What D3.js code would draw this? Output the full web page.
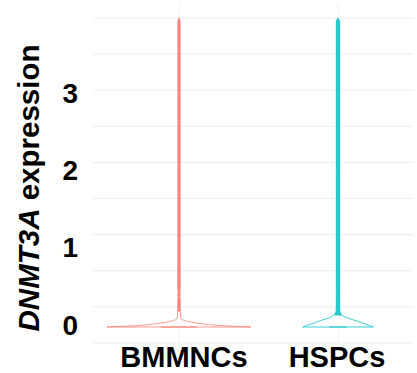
<!DOCTYPE html>
<html>
<head>
<meta charset="utf-8">
<script src="https://cdn.jsdelivr.net/npm/d3@7"></script>
<style>
  body { margin: 0; background: #fff; }
  text { font-family: "Liberation Sans", Arial, sans-serif; font-weight: bold; }
</style>
</head>
<body>
<div id="chart"></div>
<script>
// groups and colours
const groups = ["BMMNCs", "HSPCs"];
const colors = ["#F8766D", "#00BFC4"];
const yTicks = [0, 1, 2, 3];
const gridValues = [-0.5, 0, 0.5, 1, 1.5, 2, 2.5, 3, 3.5, 4];

// violin outlines: expression value vs density (relative half-width)
const bmValues = [0, 0.01, 0.02, 0.04, 0.06, 0.08, 0.1, 0.12, 0.2, 0.35, 0.4, 0.42, 0.45, 0.5, 1, 2, 3, 3.95, 4];
const bmDensity = [1.0, 0.75, 0.55, 0.34, 0.19, 0.09, 0.04, 0.022, 0.018, 0.016, 0.012, 0.02, 0.012, 0.017, 0.016, 0.016, 0.016, 0.016, 0];
const hsValues = [0, 0.02, 0.05, 0.09, 0.12, 0.15, 0.18, 0.21, 0.3, 0.5, 1, 2, 3, 3.95, 4];
const hsDensity = [0.49, 0.43, 0.34, 0.22, 0.12, 0.06, 0.035, 0.026, 0.023, 0.023, 0.023, 0.023, 0.023, 0.023, 0];

const width = 417, height = 373;
const svg = d3.select("#chart").append("svg")
  .attr("width", width)
  .attr("height", height);

const y = d3.scaleLinear().domain([0, 4]).range([327, 18]);
// panel grid sits slightly shifted against the data scale in the source figure
const gridY = d3.scaleLinear().domain([-0.5, 4]).range([343, 18]);
const x = d3.scalePoint().domain(groups).range([179, 338]);
const w = d3.scaleLinear().domain([0, 1]).range([0, 72]);

// grid
svg.append("g")
  .selectAll("line")
  .data(gridValues)
  .enter()
  .append("line")
  .attr("x1", 93)
  .attr("x2", 413)
  .attr("y1", (d) => gridY(d))
  .attr("y2", (d) => gridY(d))
  .attr("stroke", "#ededed")
  .attr("stroke-width", 1);
svg.append("g")
  .selectAll("line")
  .data(groups)
  .enter()
  .append("line")
  .attr("x1", (d) => x(d))
  .attr("x2", (d) => x(d))
  .attr("y1", 3)
  .attr("y2", 345)
  .attr("stroke", "#f2f2f2")
  .attr("stroke-width", 1);

// violins
const series = [
  { name: groups[0], color: colors[0], pts: bmValues.map((v, i) => ({ v, d: bmDensity[i] })) },
  { name: groups[1], color: colors[1], pts: hsValues.map((v, i) => ({ v, d: hsDensity[i] })) },
];
series.forEach((s) => {
  const cx = x(s.name);
  const area = d3.area()
    .curve(d3.curveMonotoneY)
    .y((p) => y(p.v))
    .x0((p) => cx - w(p.d))
    .x1((p) => cx + w(p.d));
  svg.append("path")
    .attr("d", area(s.pts))
    .attr("fill", "#fff")
    .attr("stroke", s.color)
    .attr("stroke-width", 0.9)
    .attr("stroke-opacity", 0.85);
  // thin stem is solid where both outlines touch
  svg.append("path")
    .attr("d", area(s.pts.filter((p) => p.v >= 0.15)))
    .attr("fill", s.color)
    .attr("fill-opacity", 0.85)
    .attr("stroke", "none");
  // bottom edge, heavier in the middle
  svg.append("line")
    .attr("x1", cx - w(s.pts[0].d) * 0.25)
    .attr("x2", cx + w(s.pts[0].d) * 0.25)
    .attr("y1", y(0))
    .attr("y2", y(0))
    .attr("stroke", s.color)
    .attr("stroke-width", 1.4)
    .attr("stroke-opacity", 0.6);
});

// y tick labels
svg.append("g")
  .selectAll("text")
  .data(yTicks)
  .enter()
  .append("text")
  .attr("x", 78)
  .attr("y", (d) => y(d) - 2)
  .attr("text-anchor", "end")
  .attr("dominant-baseline", "central")
  .style("font-size", "28px")
  .attr("fill", "#000")
  .text((d) => d);

// x labels
svg.append("g")
  .selectAll("text")
  .data(groups)
  .enter()
  .append("text")
  .attr("x", (d, i) => x(d) + (i === 0 ? 5 : -1))
  .attr("y", 367)
  .attr("text-anchor", "middle")
  .style("font-size", "29px")
  .attr("fill", "#000")
  .text((d) => d);

// y title
const title = svg.append("text")
  .attr("transform", "translate(39,188) rotate(-90)")
  .attr("text-anchor", "middle")
  .style("font-size", "29.5px")
  .attr("fill", "#000");
title.append("tspan").style("font-style", "italic").text("DNMT3A");
title.append("tspan").text(" expression");
</script>
</body>
</html>
